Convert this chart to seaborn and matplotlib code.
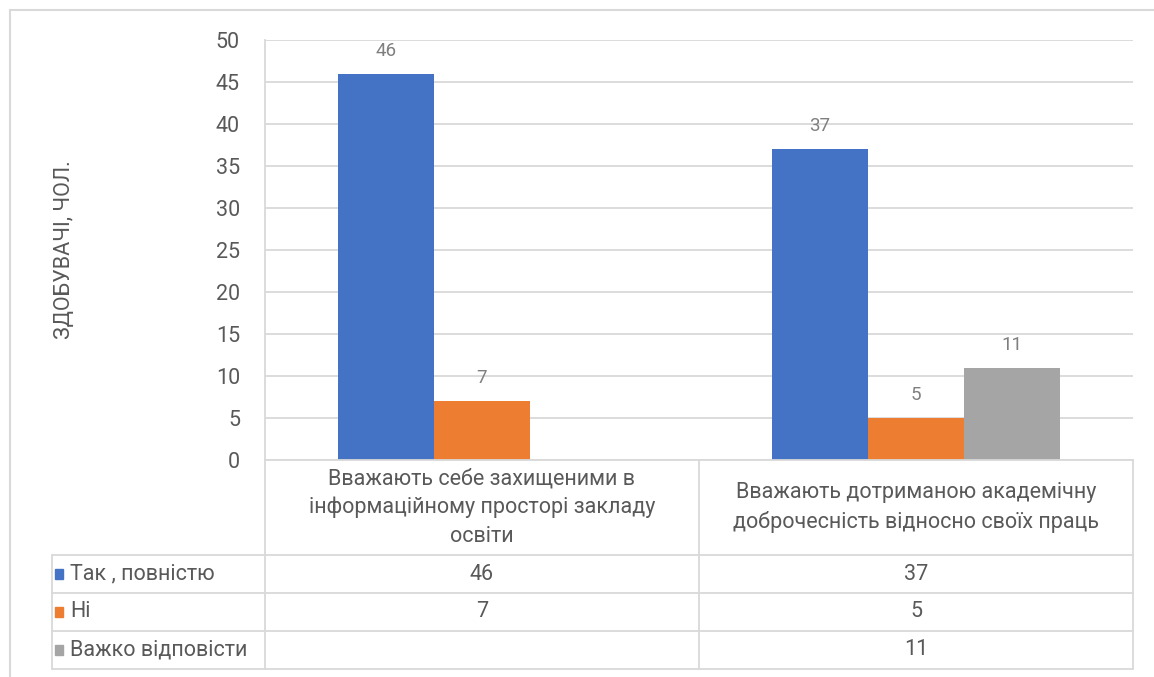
import pandas as pd
import matplotlib.pyplot as plt
import matplotlib.transforms as mtransforms
from matplotlib.lines import Line2D
from matplotlib.patches import Rectangle
import seaborn as sns

# дані
categories = ['Вважають себе захищеними в\nінформаційному просторі закладу\nосвіти',
              'Вважають дотриманою академічну\nдоброчесність відносно своїх праць']
series = ['Так , повністю', 'Ні', 'Важко відповісти']
tak = [46, 37]
ni = [7, 5]
vazhko = [None, 11]
colors = ['#4472C4', '#ED7D31', '#A5A5A5']

rows = []
for name, vals in zip(series, [tak, ni, vazhko]):
    for cat, v in zip(categories, vals):
        if v is not None:
            rows.append({'cat': cat, 'series': name, 'value': v})
df = pd.DataFrame(rows)

sns.set_style('white')
plt.rcParams['font.family'] = ['Roboto', 'DejaVu Sans']
grey = '#595959'
line_c = '#D9D9D9'
fs = 15.5

fig = plt.figure(figsize=(11.54, 6.77), dpi=100)
ax = fig.add_axes([265/1154, 1-460/677, 868/1154, 420/677])

sns.barplot(data=df, x='cat', y='value', hue='series', order=categories,
            hue_order=series, palette=colors, width=0.665, saturation=1,
            linewidth=0, legend=False, ax=ax)

for c in ax.containers:
    ax.bar_label(c, padding=10, color='#7F7F7F', fontsize=13.5)

ax.set_xlim(-0.5, 1.5)
ax.set_ylim(0, 50)
ax.set_yticks(range(0, 51, 5))
ax.tick_params(axis='y', length=0, pad=18, labelsize=fs, labelcolor=grey)
ax.set_xticks([])
ax.set_xlabel('')
ax.set_ylabel('')
ax.grid(axis='y', color=line_c, lw=1.3)
ax.set_axisbelow(True)
for s in ['top', 'right']:
    ax.spines[s].set_visible(False)
for s in ['left', 'bottom']:
    ax.spines[s].set_color(line_c)
    ax.spines[s].set_linewidth(1.3)

fig.text(64/1154, 1-250/677, 'ЗДОБУВАЧІ, ЧОЛ.', rotation=90, ha='center',
         va='center', fontsize=15.5, color=grey)

# таблиця даних
blend = mtransforms.blended_transform_factory(ax.transData, ax.transAxes)
y_head = -0.2262
row_y = [-0.2262, -0.3167, -0.4071, -0.4976]
left_leg = -0.2454

for i, cat in enumerate(categories):
    ax.text(i, y_head / 2, cat, transform=blend, ha='center', va='center',
            fontsize=fs, color=grey, linespacing=1.45)

for x in [-0.5, 0.5, 1.5]:
    ax.add_line(Line2D([x, x], [0, row_y[-1]], transform=blend, color=line_c,
                       lw=1.3, clip_on=False))
ax.add_line(Line2D([left_leg, left_leg], [row_y[0], row_y[-1]],
                   transform=ax.transAxes, color=line_c, lw=1.3, clip_on=False))
for y in row_y:
    ax.add_line(Line2D([left_leg, 1], [y, y], transform=ax.transAxes,
                       color=line_c, lw=1.3, clip_on=False))

for r, (name, vals, col) in enumerate(zip(series, [tak, ni, vazhko], colors)):
    yc = (row_y[r] + row_y[r + 1]) / 2
    ax.add_patch(Rectangle((-0.2419, yc - 0.012), 0.0092, 0.024,
                           transform=ax.transAxes, color=col, clip_on=False))
    ax.text(-0.2247, yc, name, transform=ax.transAxes, ha='left', va='center',
            fontsize=fs, color=grey)
    for i, v in enumerate(vals):
        ax.text(i, yc, '' if v is None else str(v), transform=blend,
                ha='center', va='center', fontsize=fs, color=grey)

# рамка
fig.add_artist(Line2D([10/1154, 1], [1-10/677, 1-10/677], color=line_c, lw=1.5))
fig.add_artist(Line2D([10/1154, 10/1154], [0, 1-10/677], color=line_c, lw=1.5))

fig.savefig('out.png', dpi=100, facecolor='white')
